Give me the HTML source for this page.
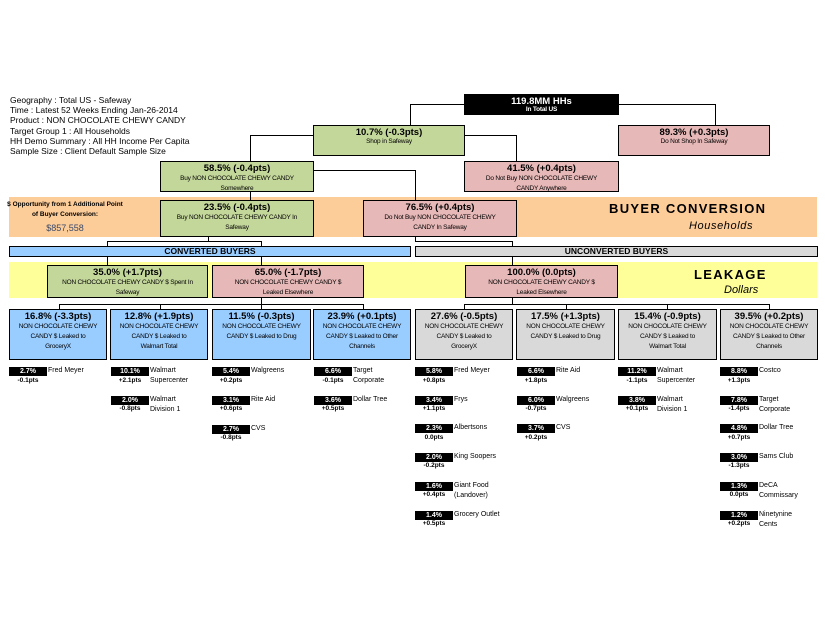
<!DOCTYPE html>
<html><head><meta charset="utf-8"><style>
*{margin:0;padding:0;box-sizing:border-box}
body{width:825px;height:638px;background:#fff;position:relative;overflow:hidden;font-family:"Liberation Sans",Arial,sans-serif;color:#000}
.a{position:absolute}
.box{position:absolute;border:1.5px solid #000;text-align:center;overflow:hidden}
.t{font-size:9.5px;font-weight:bold;line-height:11px;margin-top:1px;white-space:nowrap}
.s{font-size:6.5px;line-height:10px;letter-spacing:-0.2px}
.g{background:#c4d79b}.p{background:#e6b8b7}.b{background:#99ccff}.gy{background:#d9d9d9}
.bar{position:absolute;width:38px;height:9px;background:#000;color:#fff;font-size:7px;font-weight:bold;text-align:center;line-height:9px}
.pc{position:absolute;width:38px;font-size:6.5px;font-weight:bold;text-align:center;line-height:8px}
.lb{position:absolute;font-size:7px;line-height:10px}
.hd{position:absolute;left:10px;font-size:8.5px;line-height:10px}
</style></head><body>
<div class="hd" style="top:95px">Geography : Total US - Safeway</div>
<div class="hd" style="top:105px">Time : Latest 52 Weeks Ending Jan-26-2014</div>
<div class="hd" style="top:115px">Product : NON CHOCOLATE CHEWY CANDY</div>
<div class="hd" style="top:126px">Target Group 1 : All Households</div>
<div class="hd" style="top:136px">HH Demo Summary : All HH Income Per Capita</div>
<div class="hd" style="top:146px">Sample Size : Client Default Sample Size</div>

<div class="a" style="left:9px;top:197px;width:808px;height:40px;background:#fccc99"></div>
<div class="a" style="left:9px;top:262px;width:808px;height:36px;background:#ffff99"></div>

<svg class="a" style="left:0;top:0" width="825" height="638">
<g stroke="#000" stroke-width="1" fill="none">
<polyline points="464,104.5 410.5,104.5 410.5,125"/>
<polyline points="618,104.5 715.5,104.5 715.5,125"/>
<polyline points="313,135.5 250.5,135.5 250.5,161"/>
<polyline points="464,135.5 516.5,135.5 516.5,161"/>
<line x1="250.5" y1="192" x2="250.5" y2="200"/>
<polyline points="313,170.5 415.5,170.5 415.5,200"/>
<line x1="208.5" y1="236" x2="208.5" y2="241"/>
<polyline points="107.5,246 107.5,241.5 261.5,241.5 261.5,246"/>
<polyline points="415.5,236 415.5,241.5 512.5,241.5 512.5,246"/>
<line x1="107.5" y1="257" x2="107.5" y2="265"/>
<line x1="261.5" y1="257" x2="261.5" y2="265"/>
<line x1="512.5" y1="257" x2="512.5" y2="265"/>
<line x1="261.5" y1="297" x2="261.5" y2="304"/>
<polyline points="59.5,309 59.5,304.5 363.5,304.5 363.5,309"/>
<line x1="160.5" y1="304" x2="160.5" y2="309"/>
<line x1="261.5" y1="304" x2="261.5" y2="309"/>
<line x1="512.5" y1="297" x2="512.5" y2="304"/>
<polyline points="464.5,309 464.5,304.5 769.5,304.5 769.5,309"/>
<line x1="566.5" y1="304" x2="566.5" y2="309"/>
<line x1="667.5" y1="304" x2="667.5" y2="309"/>
</g></svg>

<div class="box" style="left:464px;top:94px;width:155px;height:21px;background:#000;color:#fff"><div class="t" style="margin-top:1px">119.8MM HHs</div><div class="s" style="line-height:6px;font-weight:bold">In Total US</div></div>
<div class="box g" style="left:313px;top:125px;width:152px;height:31px"><div class="t">10.7% (-0.3pts)</div><div class="s" style="line-height:7px">Shop in Safeway</div></div>
<div class="box p" style="left:618px;top:125px;width:152px;height:31px"><div class="t">89.3% (+0.3pts)</div><div class="s" style="line-height:7px">Do Not Shop In Safeway</div></div>
<div class="box g" style="left:160px;top:161px;width:154px;height:31px"><div class="t">58.5% (-0.4pts)</div><div class="s">Buy NON CHOCOLATE CHEWY CANDY<br>Somewhere</div></div>
<div class="box p" style="left:464px;top:161px;width:155px;height:31px"><div class="t">41.5% (+0.4pts)</div><div class="s">Do Not Buy NON CHOCOLATE CHEWY<br>CANDY Anywhere</div></div>
<div class="box g" style="left:160px;top:200px;width:154px;height:37px"><div class="t">23.5% (-0.4pts)</div><div class="s">Buy NON CHOCOLATE CHEWY CANDY In<br>Safeway</div></div>
<div class="box p" style="left:363px;top:200px;width:154px;height:37px"><div class="t">76.5% (+0.4pts)</div><div class="s">Do Not Buy NON CHOCOLATE CHEWY<br>CANDY In Safeway</div></div>

<div class="a" style="left:0px;top:200px;width:130px;text-align:center;font-size:6.5px;font-weight:bold;line-height:10px;white-space:nowrap">$ Opportunity from 1 Additional Point<br>of Buyer Conversion:</div>
<div class="a" style="left:0px;top:222px;width:130px;text-align:center;font-size:9px;color:#3a4a6a;line-height:12px">$857,558</div>
<div class="a" style="left:609px;top:201px;font-size:13px;font-weight:bold;letter-spacing:1.3px;line-height:16px">BUYER CONVERSION</div>
<div class="a" style="left:689px;top:219px;font-size:11px;font-style:italic;letter-spacing:0.6px;line-height:14px">Households</div>
<div class="a" style="left:694px;top:267px;font-size:13px;font-weight:bold;letter-spacing:1.3px;line-height:16px">LEAKAGE</div>
<div class="a" style="left:724px;top:283px;font-size:11px;font-style:italic;line-height:14px">Dollars</div>

<div class="box b" style="left:9px;top:246px;width:402px;height:11px;font-size:8.5px;font-weight:bold;line-height:9px;border-width:1px">CONVERTED BUYERS</div>
<div class="box gy" style="left:415px;top:246px;width:403px;height:11px;font-size:8.5px;font-weight:bold;line-height:9px;border-width:1px">UNCONVERTED BUYERS</div>

<div class="box g" style="left:47px;top:265px;width:161px;height:33px"><div class="t">35.0% (+1.7pts)</div><div class="s">NON CHOCOLATE CHEWY CANDY $ Spent In<br>Safeway</div></div>
<div class="box p" style="left:212px;top:265px;width:152px;height:33px"><div class="t">65.0% (-1.7pts)</div><div class="s">NON CHOCOLATE CHEWY CANDY $<br>Leaked Elsewhere</div></div>
<div class="box p" style="left:465px;top:265px;width:153px;height:33px"><div class="t">100.0% (0.0pts)</div><div class="s">NON CHOCOLATE CHEWY CANDY $<br>Leaked Elsewhere</div></div>

<div class="box b" style="left:9px;top:309px;width:98px;height:51px"><div class="t">16.8% (-3.3pts)</div><div class="s">NON CHOCOLATE CHEWY<br>CANDY $ Leaked to<br>GroceryX</div></div>
<div class="box b" style="left:110px;top:309px;width:98px;height:51px"><div class="t">12.8% (+1.9pts)</div><div class="s">NON CHOCOLATE CHEWY<br>CANDY $ Leaked to<br>Walmart Total</div></div>
<div class="box b" style="left:212px;top:309px;width:99px;height:51px"><div class="t">11.5% (-0.3pts)</div><div class="s">NON CHOCOLATE CHEWY<br>CANDY $ Leaked to Drug</div></div>
<div class="box b" style="left:313px;top:309px;width:98px;height:51px"><div class="t">23.9% (+0.1pts)</div><div class="s">NON CHOCOLATE CHEWY<br>CANDY $ Leaked to Other<br>Channels</div></div>
<div class="box gy" style="left:415px;top:309px;width:98px;height:51px"><div class="t">27.6% (-0.5pts)</div><div class="s">NON CHOCOLATE CHEWY<br>CANDY $ Leaked to<br>GroceryX</div></div>
<div class="box gy" style="left:516px;top:309px;width:99px;height:51px"><div class="t">17.5% (+1.3pts)</div><div class="s">NON CHOCOLATE CHEWY<br>CANDY $ Leaked to Drug</div></div>
<div class="box gy" style="left:618px;top:309px;width:99px;height:51px"><div class="t">15.4% (-0.9pts)</div><div class="s">NON CHOCOLATE CHEWY<br>CANDY $ Leaked to<br>Walmart Total</div></div>
<div class="box gy" style="left:720px;top:309px;width:98px;height:51px"><div class="t">39.5% (+0.2pts)</div><div class="s">NON CHOCOLATE CHEWY<br>CANDY $ Leaked to Other<br>Channels</div></div>

<div class="bar" style="left:9px;top:367px">2.7%</div><div class="pc" style="left:9px;top:377px">-0.1pts</div><div class="lb" style="left:48px;top:366px">Fred Meyer</div>

<div class="bar" style="left:111px;top:367px">10.1%</div><div class="pc" style="left:111px;top:377px">+2.1pts</div><div class="lb" style="left:150px;top:366px">Walmart<br>Supercenter</div>
<div class="bar" style="left:111px;top:396px">2.0%</div><div class="pc" style="left:111px;top:405px">-0.8pts</div><div class="lb" style="left:150px;top:395px">Walmart<br>Division 1</div>

<div class="bar" style="left:212px;top:367px">5.4%</div><div class="pc" style="left:212px;top:377px">+0.2pts</div><div class="lb" style="left:251px;top:366px">Walgreens</div>
<div class="bar" style="left:212px;top:396px">3.1%</div><div class="pc" style="left:212px;top:405px">+0.6pts</div><div class="lb" style="left:251px;top:395px">Rite Aid</div>
<div class="bar" style="left:212px;top:425px">2.7%</div><div class="pc" style="left:212px;top:434px">-0.8pts</div><div class="lb" style="left:251px;top:424px">CVS</div>

<div class="bar" style="left:314px;top:367px">6.6%</div><div class="pc" style="left:314px;top:377px">-0.1pts</div><div class="lb" style="left:353px;top:366px">Target<br>Corporate</div>
<div class="bar" style="left:314px;top:396px">3.6%</div><div class="pc" style="left:314px;top:405px">+0.5pts</div><div class="lb" style="left:353px;top:395px">Dollar Tree</div>

<div class="bar" style="left:415px;top:367px">5.8%</div><div class="pc" style="left:415px;top:377px">+0.8pts</div><div class="lb" style="left:454px;top:366px">Fred Meyer</div>
<div class="bar" style="left:415px;top:396px">3.4%</div><div class="pc" style="left:415px;top:405px">+1.1pts</div><div class="lb" style="left:454px;top:395px">Frys</div>
<div class="bar" style="left:415px;top:424px">2.3%</div><div class="pc" style="left:415px;top:434px">0.0pts</div><div class="lb" style="left:454px;top:423px">Albertsons</div>
<div class="bar" style="left:415px;top:453px">2.0%</div><div class="pc" style="left:415px;top:462px">-0.2pts</div><div class="lb" style="left:454px;top:452px">King Soopers</div>
<div class="bar" style="left:415px;top:482px">1.6%</div><div class="pc" style="left:415px;top:491px">+0.4pts</div><div class="lb" style="left:454px;top:481px">Giant Food<br>(Landover)</div>
<div class="bar" style="left:415px;top:511px">1.4%</div><div class="pc" style="left:415px;top:520px">+0.5pts</div><div class="lb" style="left:454px;top:510px">Grocery Outlet</div>

<div class="bar" style="left:517px;top:367px">6.6%</div><div class="pc" style="left:517px;top:377px">+1.8pts</div><div class="lb" style="left:556px;top:366px">Rite Aid</div>
<div class="bar" style="left:517px;top:396px">6.0%</div><div class="pc" style="left:517px;top:405px">-0.7pts</div><div class="lb" style="left:556px;top:395px">Walgreens</div>
<div class="bar" style="left:517px;top:424px">3.7%</div><div class="pc" style="left:517px;top:434px">+0.2pts</div><div class="lb" style="left:556px;top:423px">CVS</div>

<div class="bar" style="left:618px;top:367px">11.2%</div><div class="pc" style="left:618px;top:377px">-1.1pts</div><div class="lb" style="left:657px;top:366px">Walmart<br>Supercenter</div>
<div class="bar" style="left:618px;top:396px">3.8%</div><div class="pc" style="left:618px;top:405px">+0.1pts</div><div class="lb" style="left:657px;top:395px">Walmart<br>Division 1</div>

<div class="bar" style="left:720px;top:367px">8.8%</div><div class="pc" style="left:720px;top:377px">+1.3pts</div><div class="lb" style="left:759px;top:366px">Costco</div>
<div class="bar" style="left:720px;top:396px">7.8%</div><div class="pc" style="left:720px;top:405px">-1.4pts</div><div class="lb" style="left:759px;top:395px">Target<br>Corporate</div>
<div class="bar" style="left:720px;top:424px">4.8%</div><div class="pc" style="left:720px;top:434px">+0.7pts</div><div class="lb" style="left:759px;top:423px">Dollar Tree</div>
<div class="bar" style="left:720px;top:453px">3.0%</div><div class="pc" style="left:720px;top:462px">-1.3pts</div><div class="lb" style="left:759px;top:452px">Sams Club</div>
<div class="bar" style="left:720px;top:482px">1.3%</div><div class="pc" style="left:720px;top:491px">0.0pts</div><div class="lb" style="left:759px;top:481px">DeCA<br>Commissary</div>
<div class="bar" style="left:720px;top:511px">1.2%</div><div class="pc" style="left:720px;top:520px">+0.2pts</div><div class="lb" style="left:759px;top:510px">Ninetynine<br>Cents</div>
</body></html>
